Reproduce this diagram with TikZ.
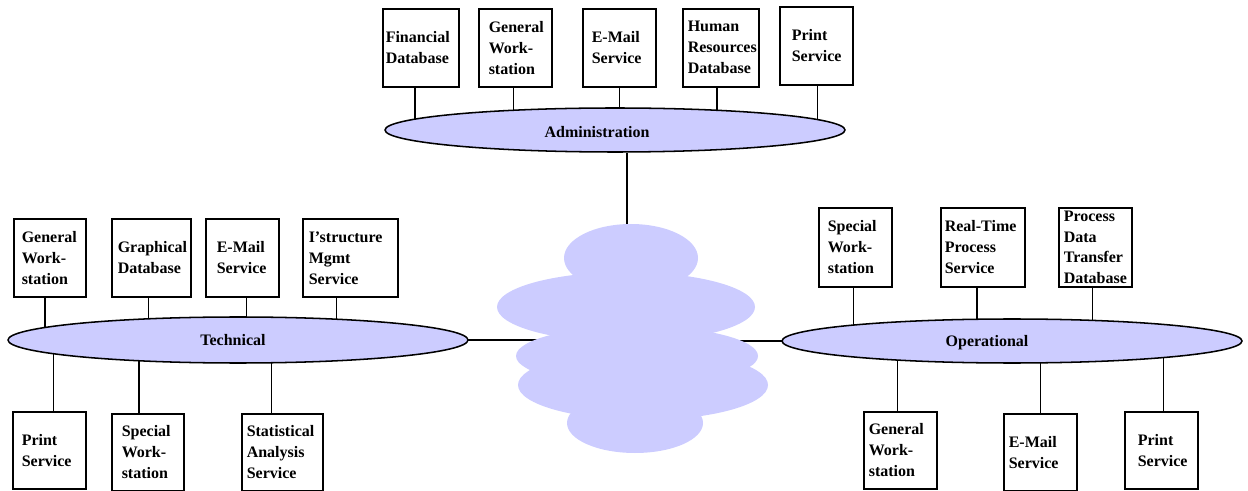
\documentclass[tikz,border=0pt]{standalone}
\usepackage{fontspec}
\setmainfont{Liberation Serif}
\usetikzlibrary{backgrounds,shapes.geometric}
\definecolor{netfill}{RGB}{204,204,255}

% boxes: [options]{name}{left}{top}{width}{height}{left padding}{text}, sizes in px
\newcommand\netbox[8][]{%
  \node[netnode, anchor=north west,
        minimum width={#5*0.75pt}, minimum height={#6*0.75pt},
        inner xsep={#7*0.75pt}, text width={(#5-2*#7)*0.75pt}, #1]
       (#2) at (#3,#4) {#8};}
% vertical drop from a box anchor to the centre line of a segment
\newcommand\tie[4]{%
  \draw[link] ([xshift=#4*0.75pt]#1.#2) -- ([xshift=#4*0.75pt]#1.#2 |- #3.center);}

\begin{document}
\begin{tikzpicture}[x=0.75pt, y=-0.75pt,
  labelfont/.style={font=\fontsize{12pt}{15pt}\selectfont\bfseries},
  netnode/.style={draw, line width=1.15pt, rectangle, align=left,
    font=\fontsize{12pt}{15.75pt}\selectfont\bfseries},
  segment/.style={draw, ellipse, fill=netfill, line width=1.15pt,
    minimum width=345pt, inner sep=0pt},
  link/.style={line width=1.15pt},
  puff/.style={fill=netfill, draw=none}]
\useasboundingbox (0,0) rectangle (1248,491);

% network segments
\node[segment, minimum height=33pt,
      label={[labelfont, xshift=-13.5pt, yshift=-1.5pt]center:Administration}]
      (adm) at (615,130) {};
\node[segment, minimum height=34.5pt,
      label={[labelfont, xshift=-3.75pt]center:Technical}]
      (tec) at (238,340) {};
\node[segment, minimum height=33pt,
      label={[labelfont, xshift=-18.75pt, yshift=-1.5pt]center:Operational}]
      (opr) at (1012,341) {};

% backbone cloud
\fill[puff] (631,258) ellipse [x radius=67, y radius=34];
\fill[puff] (626,307) ellipse [x radius=129, y radius=35];
\fill[puff] (637,356) ellipse [x radius=121, y radius=30];
\fill[puff] (643,385) ellipse [x radius=125, y radius=35];
\fill[puff] (635,423) ellipse [x radius=68, y radius=30];
\coordinate (cloud) at (627,340);

% Administration hosts
\netbox{fin}{382}{8}{76}{78}{3}{Financial\\Database}
\netbox{gwa}{478}{8}{73}{78}{10}{General\\Work-\\station}
\netbox{ema}{582}{8}{73}{78}{9}{E-Mail\\Service}
\netbox{hrd}{682}{8}{76}{78}{5}{Human\\Resources\\Database}
\netbox{prs}{779}{6}{73}{78}{12}{Print\\Service}

% Technical hosts
\netbox{tgw}{13}{218}{72}{78}{8}{General\\Work-\\station}
\netbox{gdb}{111}{218}{79}{78}{6}{Graphical\\Database}
\netbox{tem}{205}{218}{73}{78}{11}{E-Mail\\Service}
\netbox{ism}{302}{218}{95}{78}{6}{I’structure\\Mgmt\\Service}
\netbox{tps}{12}{411}{73}{77}{9}{Print\\Service}
\netbox{tsw}{111}{413}{72}{77}{10}{Special\\Work-\\station}
\netbox{sas}{241}{413}{81}{77}{5}{Statistical\\Analysis\\Service}

% Operational hosts
\netbox{osw}{818}{207}{73}{79}{9}{Special\\Work-\\station}
\netbox{rtp}{940}{207}{84}{79}{4}{Real-Time\\Process\\Service}
\netbox[inner ysep=0pt, font=\fontsize{12pt}{15.5pt}\selectfont\bfseries]{pdt}{1058}{207}{73}{79}{5}{Process\\Data\\Transfer\\Database}
\netbox{ogw}{863}{411}{73}{77}{5}{General\\Work-\\station}
\netbox{oem}{1003}{413}{73}{77}{5}{E-Mail\\Service}
\netbox{ops}{1124}{411}{73}{77}{13}{Print\\Service}

\begin{scope}[on background layer]
  % taps onto the segments
  \tie{fin}{south}{adm}{-6}
  \tie{gwa}{south}{adm}{-2}
  \tie{ema}{south}{adm}{0}
  \tie{hrd}{south}{adm}{-4}
  \tie{prs}{south}{adm}{1}
  \tie{tgw}{south}{tec}{-5}
  \tie{gdb}{south}{tec}{-3}
  \tie{tem}{south}{tec}{4}
  \tie{ism}{south}{tec}{-14}
  \tie{tps}{north}{tec}{4}
  \tie{tsw}{north}{tec}{-9}
  \tie{sas}{north}{tec}{-11}
  \tie{osw}{south}{opr}{-2}
  \tie{rtp}{south}{opr}{-6}
  \tie{pdt}{south}{opr}{-3}
  \tie{ogw}{north}{opr}{-3}
  \tie{oem}{north}{opr}{0}
  \tie{ops}{north}{opr}{2}
  % segments joined to the backbone
  \draw[link] (adm.south -| cloud) -- (cloud);
  \draw[link] (tec.center) -- (cloud);
  \draw[link] (opr.center) -- (cloud |- opr.center);
\end{scope}
\end{tikzpicture}
\end{document}
